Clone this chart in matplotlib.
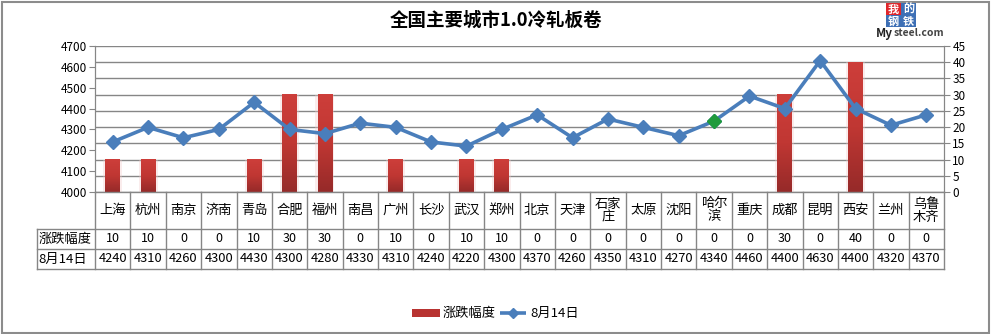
import matplotlib.pyplot as plt
import numpy as np
from matplotlib.patches import Rectangle
from matplotlib.lines import Line2D
from matplotlib.colors import LinearSegmentedColormap

plt.rcParams['font.family'] = ['Noto Sans CJK SC', 'DejaVu Sans']

# 数据
cities = ["上海", "杭州", "南京", "济南", "青岛", "合肥", "福州", "南昌", "广州", "长沙",
          "武汉", "郑州", "北京", "天津", "石家\n庄", "太原", "沈阳", "哈尔\n滨", "重庆",
          "成都", "昆明", "西安", "兰州", "乌鲁\n木齐"]
change = [10, 10, 0, 0, 10, 30, 30, 0, 10, 0, 10, 10, 0, 0, 0, 0, 0, 0, 0, 30, 0, 40, 0, 0]
price = [4240, 4310, 4260, 4300, 4430, 4300, 4280, 4330, 4310, 4240, 4220, 4300, 4370,
         4260, 4350, 4310, 4270, 4340, 4460, 4400, 4630, 4400, 4320, 4370]
title = "全国主要城市1.0冷轧板卷"
name_bar = "涨跌幅度"
name_line = "8月14日"
highlight = 17  # 哈尔滨

n = len(cities)
W, H = 992, 334
fig = plt.figure(figsize=(W / 100, H / 100), dpi=100)

def fx(px):
    return px / W

def fy(py):
    return 1 - py / H

left, right, top, bottom = 95, 944, 46, 192
ax = fig.add_axes([fx(left), fy(bottom), fx(right - left), fy(top) - fy(bottom)])
ax2 = ax.twinx()

grid_c = "#868686"
x = np.arange(n) + 0.5

# 柱状图（右轴），渐变填充
ax.set_xlim(0, n)
ax.set_ylim(0, 45)
ax.set_yticks(range(0, 46, 5))
ax.yaxis.tick_right()
ax.yaxis.grid(True, color=grid_c, lw=1)
ax.set_axisbelow(True)
grad = np.linspace(0, 1, 64).reshape(-1, 1)
cmap = LinearSegmentedColormap.from_list("rd", ["#cd3e3a", "#c03733", "#962a29"])
bw = 0.42
for xi, v in zip(x, change):
    if v <= 0:
        continue
    ax.add_patch(Rectangle((xi - bw / 2 - 0.06, 0), bw + 0.12, v, color="#f2c9c9",
                           alpha=0.35, lw=0, zorder=1.5))
    ax.imshow(grad, extent=(xi - bw / 2, xi + bw / 2, 0, v), cmap=cmap,
              aspect="auto", zorder=2, origin="upper", vmin=0, vmax=1)
ax.set_xlim(0, n)
ax.set_ylim(0, 45)

# 折线（左轴）
ax2.set_ylim(4000, 4700)
ax2.set_yticks(range(4000, 4701, 100))
ax2.yaxis.tick_left()
line_c = "#4a7ebb"
ax2.plot(x, price, color=line_c, lw=2.6, marker="D", ms=7, mfc=line_c, mec=line_c, zorder=3)
ax2.plot(x[highlight], price[highlight], marker="D", ms=7, color="#1f9a3c", zorder=4)

for a in (ax, ax2):
    a.set_xticks([])
    a.tick_params(axis="y", labelsize=8.5, length=4, color=grid_c, labelcolor="#000000", pad=2)
    for s in a.spines.values():
        s.set_color(grid_c)
    a.spines["top"].set_visible(False)
    a.spines["bottom"].set_visible(False)

# 数据表
tr = ax.get_xaxis_transform()
ph = bottom - top
r1 = -(229 - bottom) / ph
r2 = -(249 - bottom) / ph
r3 = -(269 - bottom) / ph
xl = -(left - 37) / ((right - left) / n)
lk = dict(transform=tr, color=grid_c, lw=1, clip_on=False)
ax.add_line(Line2D([0, n], [0, 0], **lk))
ax.add_line(Line2D([xl, n], [r1, r1], **lk))
ax.add_line(Line2D([xl, n], [r2, r2], **lk))
ax.add_line(Line2D([xl, n], [r3, r3], **lk))
ax.add_line(Line2D([xl, xl], [r1, r3], **lk))
for i in range(n + 1):
    ax.add_line(Line2D([i, i], [0, r3], **lk))
for i in range(n):
    ax.text(x[i], r1 / 2, cities[i], transform=tr, ha="center", va="center",
            fontsize=9.5, linespacing=1.0, clip_on=False)
    ax.text(x[i], (r1 + r2) / 2, str(change[i]), transform=tr, ha="center", va="center",
            fontsize=9, clip_on=False)
    ax.text(x[i], (r2 + r3) / 2, str(price[i]), transform=tr, ha="center", va="center",
            fontsize=9.3, clip_on=False)
ax.text(xl + 0.05, (r1 + r2) / 2, name_bar, transform=tr, ha="left", va="center",
        fontsize=9.5, clip_on=False)
ax.text(xl + 0.05, (r2 + r3) / 2, name_line, transform=tr, ha="left", va="center",
        fontsize=9.5, clip_on=False)

# 标题
fig.text(0.5, fy(20), title, ha="center", va="center", fontsize=13.3, fontweight="bold")

# 图例
fig.patches.append(Rectangle((fx(412), fy(317)), fx(28), fy(309) - fy(317),
                             transform=fig.transFigure, color="#b83331", lw=0))
fig.text(fx(443), fy(313), name_bar, ha="left", va="center", fontsize=9.5)
fig.lines.append(Line2D([fx(500), fx(526)], [fy(313), fy(313)], transform=fig.transFigure,
                        color=line_c, lw=2.6, solid_capstyle="butt"))
fig.lines.append(Line2D([fx(513)], [fy(313)], transform=fig.transFigure, color=line_c,
                        marker="D", ms=5.5, lw=0))
fig.text(fx(530), fy(313), name_line, ha="left", va="center", fontsize=9.5)

# 标志
logo = [("我", 886, 3, "#e0262b"), ("的", 901, 3, "#3d6fb5"),
        ("钢", 886, 15, "#3d6fb5"), ("铁", 901, 15, "#3d6fb5")]
for ch, lx, ly, c in logo:
    fig.patches.append(Rectangle((fx(lx), fy(ly + 12)), fx(15), fy(ly) - fy(ly + 12),
                                 transform=fig.transFigure, color=c, lw=0))
    fig.text(fx(lx + 7.5), fy(ly + 6), ch, ha="center", va="center", fontsize=8,
             color="white", fontweight="bold")
fig.text(fx(876), fy(33), "My", ha="left", va="center", fontsize=8.5, fontweight="bold",
         color="#222222")
fig.text(fx(894), fy(33), "steel.com", ha="left", va="center", fontsize=7.5,
         fontweight="bold", color="#444444")

# 外框
fig.patches.append(Rectangle((0.002, 0.004), 0.995, 0.99, transform=fig.transFigure,
                             fill=False, edgecolor="#8c8c8c", lw=1.5))

fig.savefig("out.png", dpi=100)
